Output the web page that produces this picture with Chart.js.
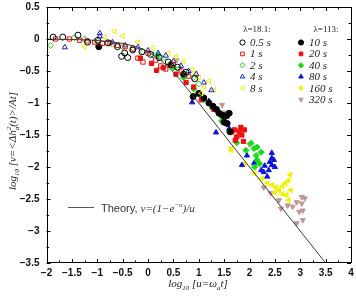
<!DOCTYPE html>
<html><head><meta charset="utf-8">
<style>html,body{margin:0;padding:0;background:#fff;}#wrap{width:356px;height:301px;}</style>
<script src="https://cdn.jsdelivr.net/npm/chart.js@4.4.1/dist/chart.umd.min.js"></script>
</head><body><div id="wrap"><canvas id="c" width="356" height="301"></canvas></div>
<script>
// ---------- data ----------
const xTicks = [-2,-1.5,-1,-0.5,0,0.5,1,1.5,2,2.5,3,3.5,4];
const xTickLabels = ['−2','−1.5','−1','−0.5','0','0.5','1','1.5','2','2.5','3','3.5','4'];
const yTicks = [0.5,0,-0.5,-1,-1.5,-2,-2.5,-3,-3.5];
const yTickLabels = ['0.5','0','−0.5','−1','−1.5','−2','−2.5','−3','−3.5'];

const theoryX = [-2,-1.5,-1,-0.5,-0.25,-0.125,0,0.125,0.25,0.375,0.5,0.625,0.75,0.875,1,1.25,1.5,2,2.5,3,3.5];
const theoryY = [-0.002,-0.007,-0.022,-0.067,-0.116,-0.153,-0.199,-0.258,-0.330,-0.418,-0.519,-0.632,-0.752,-0.875,-1.0,-1.25,-1.5,-2.0,-2.5,-3.0,-3.5];

const seriesNames = ['0.5 s','1 s','2 s','4 s','8 s','10 s','20 s','40 s','80 s','160 s','320 s'];
const groupHeaders = ['λ=18.1:','λ=113:'];
const theoryLabel = 'Theory,';

const s0_5 = [[-1.87,0.03],[-1.68,0.03],[-1.38,0.06],[-1.19,-0.05],[-0.99,-0.02],[-0.79,-0.06],[-0.60,-0.12],[-0.52,-0.27],[-0.46,-0.22],[-0.40,-0.29],[-0.30,-0.17],[-0.12,-0.20],[0.05,-0.24],[0.22,-0.29],[0.40,-0.36],[0.58,-0.44],[0.75,-0.52],[0.92,-0.62]];
const s1 = [[-1.82,0.0],[-1.55,0.0],[-1.35,-0.02],[-1.2,-0.03],[-1.05,-0.05],[-0.9,-0.07],[-0.75,-0.06],[-0.6,-0.1],[-0.45,-0.12],[-0.3,-0.16],[-0.2,-0.3],[-0.1,-0.36],[0.0,-0.22],[0.15,-0.33],[0.25,-0.42],[0.35,-0.47],[0.5,-0.4],[0.65,-0.5],[0.8,-0.58]];
const s2 = [[-1.92,-0.1],[-1.45,0.02],[-1.25,0.0],[-1.0,-0.04],[-0.7,-0.08],[-0.5,-0.12],[-0.3,-0.14],[-0.1,-0.2],[0.1,-0.25],[0.3,-0.3],[0.45,-0.38],[0.6,-0.47],[0.75,-0.55],[0.9,-0.6],[1.0,-0.7]];
const s4 = [[-1.64,-0.13],[-0.95,0.09],[-0.95,0.04],[-0.7,-0.05],[-0.45,-0.1],[-0.2,-0.13],[0.0,-0.18],[0.2,-0.22],[0.35,-0.26],[0.5,-0.35],[0.65,-0.42],[0.8,-0.5],[0.95,-0.55],[1.1,-0.68],[1.25,-0.8]];
const s8 = [[-1.25,-0.12],[-0.85,0.03],[-0.66,0.12],[-0.5,0.05],[-0.2,-0.05],[0.09,-0.14],[0.4,-0.22],[0.55,-0.28],[0.7,-0.35],[0.87,-0.48],[0.95,-0.53],[1.0,-0.6],[1.11,-0.75],[1.05,-0.85],[1.2,-0.66],[1.3,-0.8]];
const s10 = [[-0.97,-0.12],[0.45,-0.4],[0.7,-0.55],[0.89,-0.9],[1.0,-0.85],[1.1,-0.92],[1.2,-1.0],[1.28,-1.05],[1.35,-1.1],[1.4,-1.16],[1.46,-1.19],[1.5,-1.2],[1.55,-1.2],[1.6,-1.16],[1.5,-1.3],[1.56,-1.32],[1.62,-1.45]];
const s20 = [[0.07,-0.38],[0.17,-0.49],[-0.15,-0.3],[0.3,-0.45],[0.55,-0.55],[0.75,-0.68],[0.9,-0.75],[1.05,-0.95],[1.3,-1.1],[1.5,-1.3],[1.65,-1.45],[1.7,-1.42],[1.83,-1.38],[1.8,-1.45],[1.85,-1.5],[1.75,-1.53],[1.72,-1.58],[1.88,-1.6],[1.9,-1.42]];
const s40 = [[0.2,-0.25],[0.5,-0.45],[0.7,-0.6],[0.9,-0.78],[1.1,-0.95],[1.27,-1.08],[1.45,-1.28],[1.6,-1.45],[1.75,-1.62],[1.93,-1.74],[2.03,-1.63],[2.09,-1.71],[2.13,-1.82],[2.15,-1.89],[2.15,-1.69],[2.23,-1.77],[2.2,-1.95],[2.1,-2.0]];
const s80 = [[0.87,-0.99],[1.2,-0.97],[1.34,-1.46],[1.6,-1.4],[1.85,-1.97],[1.95,-1.82],[2.09,-1.94],[2.15,-1.9],[2.23,-2.05],[2.28,-2.08],[2.38,-2.05],[2.44,-1.97],[2.48,-1.89],[2.44,-1.86],[2.44,-1.78],[2.5,-2.0],[2.35,-2.15],[2.4,-1.92],[2.3,-1.98]];
const s160 = [[1.64,-1.74],[1.64,-1.71],[1.9,-1.95],[2.1,-2.1],[2.25,-2.18],[2.35,-2.25],[2.52,-2.32],[2.58,-2.36],[2.65,-2.3],[2.71,-2.25],[2.77,-2.21],[2.81,-2.36],[2.73,-2.44],[2.65,-2.42],[2.77,-2.52],[2.8,-2.12],[2.5,-2.4],[2.45,-2.28]];
const s320 = [[0.56,-0.33],[1.46,-1.03],[1.5,-1.15],[1.75,-1.42],[2.0,-1.65],[2.28,-2.32],[2.42,-2.41],[2.58,-2.52],[2.62,-2.65],[2.85,-2.62],[2.93,-2.55],[3.03,-2.47],[3.09,-2.49],[3.03,-2.57],[3.05,-2.68],[3.05,-2.83],[2.93,-2.88],[2.75,-2.6],[2.98,-2.7]];

const seriesData = [s0_5,s1,s2,s4,s8,s10,s20,s40,s80,s160,s320];

// ---------- styles ----------
const styles = [
  {c:'#000000', open:true,  ps:'circle',  rot:0},
  {c:'#ee1111', open:true,  ps:'rect',    rot:0},
  {c:'#22cc22', open:true,  ps:'rectRot', rot:0},
  {c:'#1a1aee', open:true,  ps:'triangle',rot:0},
  {c:'#eeee00', open:true,  ps:'triangle',rot:270},
  {c:'#000000', open:false, ps:'circle',  rot:0},
  {c:'#ee1111', open:false, ps:'rect',    rot:0},
  {c:'#11dd11', open:false, ps:'rectRot', rot:0},
  {c:'#1010e0', open:false, ps:'triangle',rot:0},
  {c:'#f2f200', open:false, ps:'triangle',rot:270},
  {c:'#c09595', open:false, ps:'triangle',rot:180}
];

const datasets = [{
  type:'line', label:'Theory',
  data: theoryX.map((x,i)=>({x, y: theoryY[i]})),
  borderColor:'#3a3a3a', borderWidth:1, pointRadius:0, showLine:true, tension:0, fill:false
}];
seriesData.forEach((d,i)=>{
  const s = styles[i];
  datasets.push({
    type:'scatter', label: seriesNames[i],
    data: d.map(p=>({x:p[0], y:p[1]})),
    pointStyle: s.ps, rotation: s.rot, pointRadius: 3,
    borderColor: s.c, backgroundColor: s.open ? 'rgba(0,0,0,0)' : s.c,
    borderWidth: 1
  });
});

function rich(ctx, segs, x, y, align){
  let w = 0;
  segs.forEach(s=>{ ctx.font = s[1]; if (s[3] !== false) w += ctx.measureText(s[0]).width; });
  let cx = align === 'center' ? x - w/2 : x;
  segs.forEach(s=>{
    ctx.font = s[1];
    ctx.fillText(s[0], cx, y + (s[2]||0));
    if (s[3] !== false) cx += ctx.measureText(s[0]).width;
  });
}

const SERIF = '"Liberation Serif","DejaVu Serif",serif';
const SANS = '"Liberation Sans",Arial,sans-serif';

const deco = {
  id:'deco',
  afterDatasetsDraw(chart){
    const ctx = chart.ctx, a = chart.chartArea;
    const xs = chart.scales.x, ys = chart.scales.y;
    ctx.save();
    ctx.strokeStyle = '#000'; ctx.lineWidth = 1;
    ctx.strokeRect(Math.round(a.left)+0.5, Math.round(a.top)+0.5, Math.round(a.right-a.left)-1, Math.round(a.bottom-a.top)-1);
    ctx.beginPath();
    xTicks.forEach((v,i)=>{
      const p = Math.round(xs.getPixelForValue(v))+0.5;
      ctx.moveTo(p, a.bottom); ctx.lineTo(p, a.bottom-4);
      ctx.moveTo(p, a.top); ctx.lineTo(p, a.top+4);
      if (i < xTicks.length-1){
        const m = Math.round(xs.getPixelForValue((v+xTicks[i+1])/2))+0.5;
        ctx.moveTo(m, a.bottom); ctx.lineTo(m, a.bottom-2.5);
        ctx.moveTo(m, a.top); ctx.lineTo(m, a.top+2.5);
      }
    });
    yTicks.forEach((v,i)=>{
      const p = Math.round(ys.getPixelForValue(v))+0.5;
      ctx.moveTo(a.left, p); ctx.lineTo(a.left+4, p);
      ctx.moveTo(a.right, p); ctx.lineTo(a.right-4, p);
      if (i < yTicks.length-1){
        const m = Math.round(ys.getPixelForValue((v+yTicks[i+1])/2))+0.5;
        ctx.moveTo(a.left, m); ctx.lineTo(a.left+2.5, m);
        ctx.moveTo(a.right, m); ctx.lineTo(a.right-2.5, m);
      }
    });
    ctx.stroke();
    ctx.restore();
  },
  afterDraw(chart){
    const ctx = chart.ctx;
    ctx.save();
    ctx.fillStyle = '#222';
    ctx.textBaseline = 'alphabetic';
    ctx.textAlign = 'center';
    ctx.font = '9px ' + SERIF;
    ctx.fillText(groupHeaders[0], 257, 32);
    ctx.fillText(groupHeaders[1], 326, 32);
    ctx.textAlign = 'left';
    const y0 = 42.5, dy = 11.4;
    seriesNames.forEach((n,i)=>{
      const s = styles[i];
      const col = i < 5 ? 0 : 1;
      const row = i < 5 ? i : i-5;
      const mx = col === 0 ? 242.5 : 301;
      const tx = col === 0 ? 250 : 309;
      const y = y0 + row*dy;
      ctx.save();
      ctx.strokeStyle = s.c; ctx.fillStyle = s.open ? 'rgba(0,0,0,0)' : s.c; ctx.lineWidth = 1;
      Chart.helpers.drawPoint(ctx, {pointStyle:s.ps, rotation:s.rot, radius:2.6, borderWidth:1}, mx, y);
      ctx.restore();
      ctx.fillStyle = '#222';
      ctx.font = 'italic 11px ' + SERIF;
      ctx.fillText(n, tx, y + 3.5);
    });
    ctx.strokeStyle = '#555'; ctx.lineWidth = 1;
    ctx.beginPath(); ctx.moveTo(68, 207.5); ctx.lineTo(94, 207.5); ctx.stroke();
    ctx.fillStyle = '#333';
    const it = 'italic 11px ' + SERIF, itS = 'italic 7px ' + SERIF;
    rich(ctx, [[theoryLabel + ' ', '11px ' + SANS, 0], ['v=(1−e', it, 0], ['−u', itS, -5], [')/u', it, 0]], 101, 211.5, 'left');
    ctx.fillStyle = '#222';
    rich(ctx, [['log', it, 0], ['10', itS, 3], [' [u=ω', it, 0], ['a', itS, 3], ['t]', it, 0]], 198, 287, 'center');
    ctx.translate(16, 141);
    ctx.rotate(-Math.PI/2);
    rich(ctx, [['log', it, 0], ['10', itS, 3], [' [v=<Δh', it, 0], ['2', itS, -5, false], ['a', itS, 3], ['(t)>/At]', it, 0]], 0, 0, 'center');
    ctx.restore();
  }
};

new Chart(document.getElementById('c'), {
  data: { datasets },
  options: {
    responsive:false, animation:false, devicePixelRatio:1,
    layout:{ padding:{ top:7, right:3, left:0, bottom:0 } },
    plugins:{ legend:{display:false}, tooltip:{enabled:false} },
    scales:{
      x:{
        type:'linear', min:-2, max:4,
        afterBuildTicks: s => { s.ticks = xTicks.map(v=>({value:v})); },
        afterFit: s => { s.height = 38; s.paddingRight = 0; s.paddingLeft = 0; },
        grid:{ display:false, drawTicks:false }, border:{ display:false },
        ticks:{ autoSkip:false, maxRotation:0, padding:4, color:'#111',
          font:{ family:'"Liberation Sans",Arial,sans-serif', size:10, weight:'bold' },
          callback: v => { const i = xTicks.indexOf(v); return i >= 0 ? xTickLabels[i] : ''; } }
      },
      y:{
        type:'linear', min:-3.5, max:0.5,
        afterBuildTicks: s => { s.ticks = yTicks.map(v=>({value:v})); },
        afterFit: s => { s.width = 46.5; s.paddingTop = 0; s.paddingBottom = 0; },
        grid:{ display:false, drawTicks:false }, border:{ display:false },
        ticks:{ autoSkip:false, padding:7, color:'#111',
          font:{ family:'"Liberation Sans",Arial,sans-serif', size:10, weight:'bold' },
          callback: v => { const i = yTicks.indexOf(v); return i >= 0 ? yTickLabels[i] : ''; } }
      }
    }
  },
  plugins:[deco]
});
</script>
</body></html>
